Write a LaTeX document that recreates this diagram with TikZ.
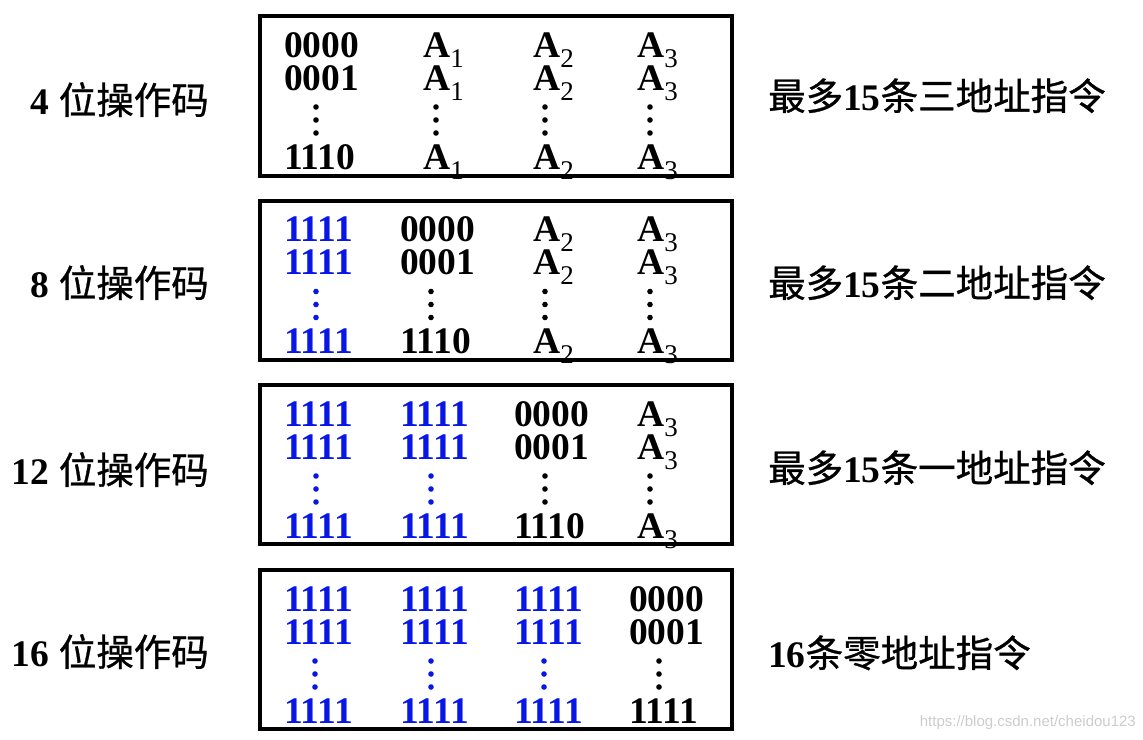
\documentclass[tikz,border=0pt]{standalone}
\usepackage{fontspec}
\setmainfont{Liberation Serif}
\newfontfamily\cjk{Noto Sans CJK SC}[FakeBold=0.8]
\newfontfamily\wmfont{Liberation Sans}
\definecolor{bitblue}{RGB}{8,22,230}
\newcommand{\Asub}[1]{A\raisebox{-10pt}{\fontsize{27}{27}\selectfont\mdseries #1}}
\tikzset{
  cell/.style={anchor=base west, inner sep=0pt, text height=26pt, text depth=0pt, font=\fontsize{37.5}{40}\selectfont\bfseries},
  acell/.style={cell, text depth=5pt},
  bluecell/.style={cell, text=bitblue},
  opbox/.style={draw=black, line width=4pt, minimum width=472.5pt, minimum height=159.5pt, inner sep=0pt},
  leftlab/.style={anchor=base east, inner sep=0pt, font=\fontsize{37.5}{40}\selectfont},
  rightlab/.style={anchor=base west, inner sep=0pt, font=\fontsize{37.5}{40}\selectfont},
}
\begin{document}
\begin{tikzpicture}[x=1pt,y=-1pt]
\useasboundingbox (0,0) rectangle (1143,739);

% boxes
\node[opbox] (box1) at (495.75,95.75) {};
\node[opbox] (box2) at (495.75,280.25) {};
\node[opbox] (box3) at (495.75,464.5) {};
\node[opbox] (box4) at (495.75,649.5) {};

% box 1 (T=16)
\foreach \r/\dy/\t in {1/41/0000,2/74/0001,3/153/1110}{
  \node[cell] (b1c1r\r) at (284,16+\dy) {\t};
  \node[acell] (b1c2r\r) at (423,16+\dy) {\Asub{1}};
  \node[acell] (b1c3r\r) at (533,16+\dy) {\Asub{2}};
  \node[acell] (b1c4r\r) at (637,16+\dy) {\Asub{3}};
}
\foreach \x in {316,436,545,650}
  \foreach \d in {91,104,117}
    \fill[black] (\x,16+\d) circle (2.8pt);

% box 2 (T=200.5)
\foreach \r/\dy/\t in {1/41/0000,2/74/0001,3/153/1110}{
  \node[bluecell] (b2c1r\r) at (284,200.5+\dy) {1111};
  \node[cell] (b2c2r\r) at (400,200.5+\dy) {\t};
  \node[acell] (b2c3r\r) at (533,200.5+\dy) {\Asub{2}};
  \node[acell] (b2c4r\r) at (637,200.5+\dy) {\Asub{3}};
}
\foreach \d in {91,104,117}{
  \fill[bitblue] (316,200.5+\d) circle (2.8pt);
  \fill[black] (431,200.5+\d) circle (2.8pt);
  \fill[black] (545,200.5+\d) circle (2.8pt);
  \fill[black] (650,200.5+\d) circle (2.8pt);
}

% box 3 (T=385)
\foreach \r/\dy/\t in {1/41/0000,2/74/0001,3/153/1110}{
  \node[bluecell] (b3c1r\r) at (284,385+\dy) {1111};
  \node[bluecell] (b3c2r\r) at (400,385+\dy) {1111};
  \node[cell] (b3c3r\r) at (514,385+\dy) {\t};
  \node[acell] (b3c4r\r) at (637,385+\dy) {\Asub{3}};
}
\foreach \d in {91,104,117}{
  \fill[bitblue] (316,385+\d) circle (2.8pt);
  \fill[bitblue] (431,385+\d) circle (2.8pt);
  \fill[black] (545,385+\d) circle (2.8pt);
  \fill[black] (650,385+\d) circle (2.8pt);
}

% box 4 (T=570)
\foreach \r/\dy/\t in {1/41/0000,2/74/0001,3/153/1111}{
  \node[bluecell] (b4c1r\r) at (284,570+\dy) {1111};
  \node[bluecell] (b4c2r\r) at (400,570+\dy) {1111};
  \node[bluecell] (b4c3r\r) at (514,570+\dy) {1111};
  \node[cell] (b4c4r\r) at (629,570+\dy) {\t};
}
\foreach \d in {91,104,117}{
  \fill[bitblue] (315,570+\d) circle (2.8pt);
  \fill[bitblue] (431,570+\d) circle (2.8pt);
  \fill[bitblue] (544,570+\d) circle (2.8pt);
  \fill[black] (659,570+\d) circle (2.8pt);
}

% left labels
\node[leftlab] (l1) at (209,114) {\textbf{4} {\cjk 位操作码}};
\node[leftlab] (l2) at (209,297) {\textbf{8} {\cjk 位操作码}};
\node[leftlab] (l3) at (209,484) {\textbf{12} {\cjk 位操作码}};
\node[leftlab] (l4) at (209,666) {\textbf{16} {\cjk 位操作码}};

% right labels
\node[rightlab] (r1) at (768,110) {{\cjk 最多}\textbf{15}{\cjk 条三地址指令}};
\node[rightlab] (r2) at (768,297) {{\cjk 最多}\textbf{15}{\cjk 条二地址指令}};
\node[rightlab] (r3) at (768,482) {{\cjk 最多}\textbf{15}{\cjk 条一地址指令}};
\node[rightlab] (r4) at (768,667) {\textbf{16}{\cjk 条零地址指令}};

% watermark
\node[anchor=base east, inner sep=0pt, text=black!20, font=\wmfont\fontsize{15}{15}\selectfont] (wm) at (1136,726) {https://blog.csdn.net/cheidou123};
\end{tikzpicture}
\end{document}
